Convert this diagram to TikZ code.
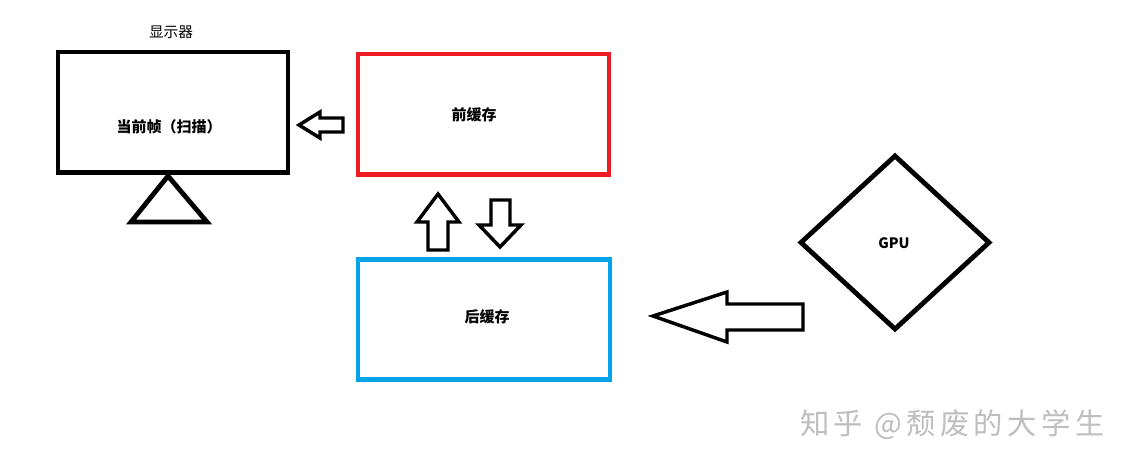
\documentclass[tikz,border=0pt]{standalone}
\usepackage{fontspec}
\setmainfont{Noto Sans CJK SC}
\usetikzlibrary{shapes.geometric}
\definecolor{pred}{RGB}{237,28,36}
\definecolor{pblue}{RGB}{0,162,232}
\definecolor{wm}{RGB}{190,190,190}
\begin{document}
\begin{tikzpicture}[x=0.75pt,y=-0.75pt,
  box/.style={draw,line width=3.6pt,inner sep=0pt,minimum width=#1},
  lbl/.style={font=\bfseries\fontsize{11.25pt}{13pt}\selectfont,inner sep=0pt},
  blockarrow/.style={draw,line width=2.6pt,line join=miter,fill=white}]
\useasboundingbox (0,0) rectangle (1138,469);
\fill[white] (0,0) rectangle (1138,469);
% monitor
\node[box=172.5pt,minimum height=90.4pt] (monitor) at (173,112.25) {};
\node[lbl] (curframe) at (169,127) {当前帧（扫描）};
\node[inner sep=0pt,font=\fontsize{11pt}{13pt}\selectfont] (title) at (171,32) {显示器};
\draw[line width=3.6pt,line join=miter] (168,176) -- (131,222) -- (207,222) -- cycle;
% front buffer
\node[box=188.25pt,minimum height=90.4pt,draw=pred] (front) at (483.5,114.25) {};
\node[lbl] (frontlbl) at (474,115) {前缓存};
% back buffer
\node[box=189pt,minimum height=90pt,draw=pblue] (back) at (484,319.5) {};
\node[lbl] (backlbl) at (487,317) {后缓存};
% GPU
\node[diamond,draw,line width=3.6pt,inner sep=0pt,minimum width=142.5pt,minimum height=131.25pt,aspect=1] (gpu) at (895,242.5) {};
\node[inner sep=0pt,font=\bfseries\fontsize{10.75pt}{13pt}\selectfont] (gpulbl) at (894,243) {GPU};
% arrow front -> monitor
\draw[blockarrow] (299,125) -- (320,112) -- (320,118) -- (343,118) -- (343,132) -- (320,132) -- (320,138) -- cycle;
% up arrow back -> front
\draw[blockarrow] (438,194) -- (459,222) -- (448,222) -- (448,250) -- (428,250) -- (428,222) -- (417,222) -- cycle;
% down arrow front -> back
\draw[blockarrow] (500,247) -- (479,225) -- (491,225) -- (491,200) -- (510,200) -- (510,225) -- (521,225) -- cycle;
% big arrow gpu -> back
\draw[blockarrow] (653,316) -- (727,292) -- (727,304) -- (803,304) -- (803,330) -- (727,330) -- (727,342) -- cycle;
% watermark
\node[inner sep=0pt,text=wm,font=\fontsize{22pt}{25pt}\selectfont\addfontfeatures{LetterSpace=15},anchor=west] (wmark) at (800,425) {知乎 @颓废的大学生};
\end{tikzpicture}
\end{document}
